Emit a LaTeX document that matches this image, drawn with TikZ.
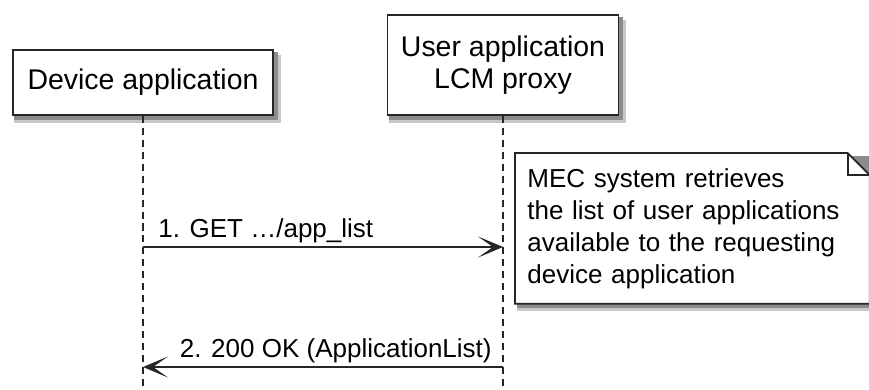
\documentclass[tikz,border=0pt]{standalone}
\usepackage{fontspec}
\setmainfont{Liberation Sans}
\usetikzlibrary{arrows.meta, positioning, backgrounds}

\begin{document}
\begin{tikzpicture}[x=0.02cm, y=-0.02cm,
        participant/.style={draw=black!85, line width=1.1pt, fill=white, inner sep=0pt, align=center,
            font=\fontsize{16.2pt}{18.2pt}\selectfont},
        shade1/.style={fill=black!22},
        shade2/.style={fill=black!45},
        lifeline/.style={draw=black!85, line width=0.9pt, dash pattern=on 4pt off 2.8pt},
        msg/.style={draw=black!85, line width=1pt, -{Stealth[length=0.5cm, width=0.42cm, inset=0.3cm]}},
        lbl/.style={font=\fontsize{14.8pt}{18.2pt}\selectfont, inner sep=0pt},
        notebox/.style={draw=black!85, line width=1pt, fill=white}]
    \useasboundingbox (0,0) rectangle (869,389);

    % Participants
    \node[participant, minimum width=5.2cm, minimum height=1.3cm] (dev) at (143,82.5) {Device application};
    \node[participant, minimum width=4.62cm, minimum height=2cm] (ulp) at (503,65) {User application\\LCM proxy};

    % Message levels and bottom of the lifelines
    \coordinate (bottom) at (0,389);
    \coordinate (lvl1) at (0,247);
    \coordinate (lvl2) at (0,367);
    \coordinate (d1) at (dev |- lvl1);
    \coordinate (u1) at (ulp |- lvl1);
    \coordinate (d2) at (dev |- lvl2);
    \coordinate (u2) at (ulp |- lvl2);

    % Lifelines
    \draw[lifeline] (dev.south) -- (dev |- bottom);
    \draw[lifeline] (ulp.south) -- (ulp |- bottom);

    % Note
    \node[lbl, anchor=north west, text width=6.6cm, align=left, inner xsep=0.24cm,
          minimum height=3cm] (note) at (515,153)
        {MEC system retrieves\\the list of user applications\\available to the requesting\\device application};

    % Shadows and note outline
    \begin{scope}[on background layer]
        \foreach \n in {dev, ulp} {
            \fill[shade1] ([shift={(2,6)}]\n.north west) rectangle ([shift={(7,7)}]\n.south east);
            \fill[shade2] ([shift={(2,3)}]\n.north west) rectangle ([shift={(4,4)}]\n.south east);
        }
        \fill[shade1] ([shift={(2,6)}]note.north west) rectangle ([shift={(7,7)}]note.south east);
        \fill[shade2] ([shift={(2,3)}]note.north west) rectangle ([shift={(4,4)}]note.south east);
        \draw[notebox] (note.north west) -- ([xshift=-0.44cm]note.north east)
            -- ([yshift=-0.44cm]note.north east) -- (note.south east) -- (note.south west) -- cycle;
    \end{scope}
    \draw[black!85, line width=1pt] ([xshift=-0.44cm]note.north east) |- ([yshift=-0.44cm]note.north east);

    % Messages
    \draw[msg] (d1) -- (u1);
    \node[lbl, anchor=base west] (m1) at ([xshift=0.3cm, yshift=0.2cm]d1) {1. GET …/app\_list};
    \draw[msg] (u2) -- (d2);
    \node[lbl, anchor=base east] (m2) at ([xshift=-0.22cm, yshift=0.2cm]u2) {2. 200 OK (ApplicationList)};
\end{tikzpicture}
\end{document}
